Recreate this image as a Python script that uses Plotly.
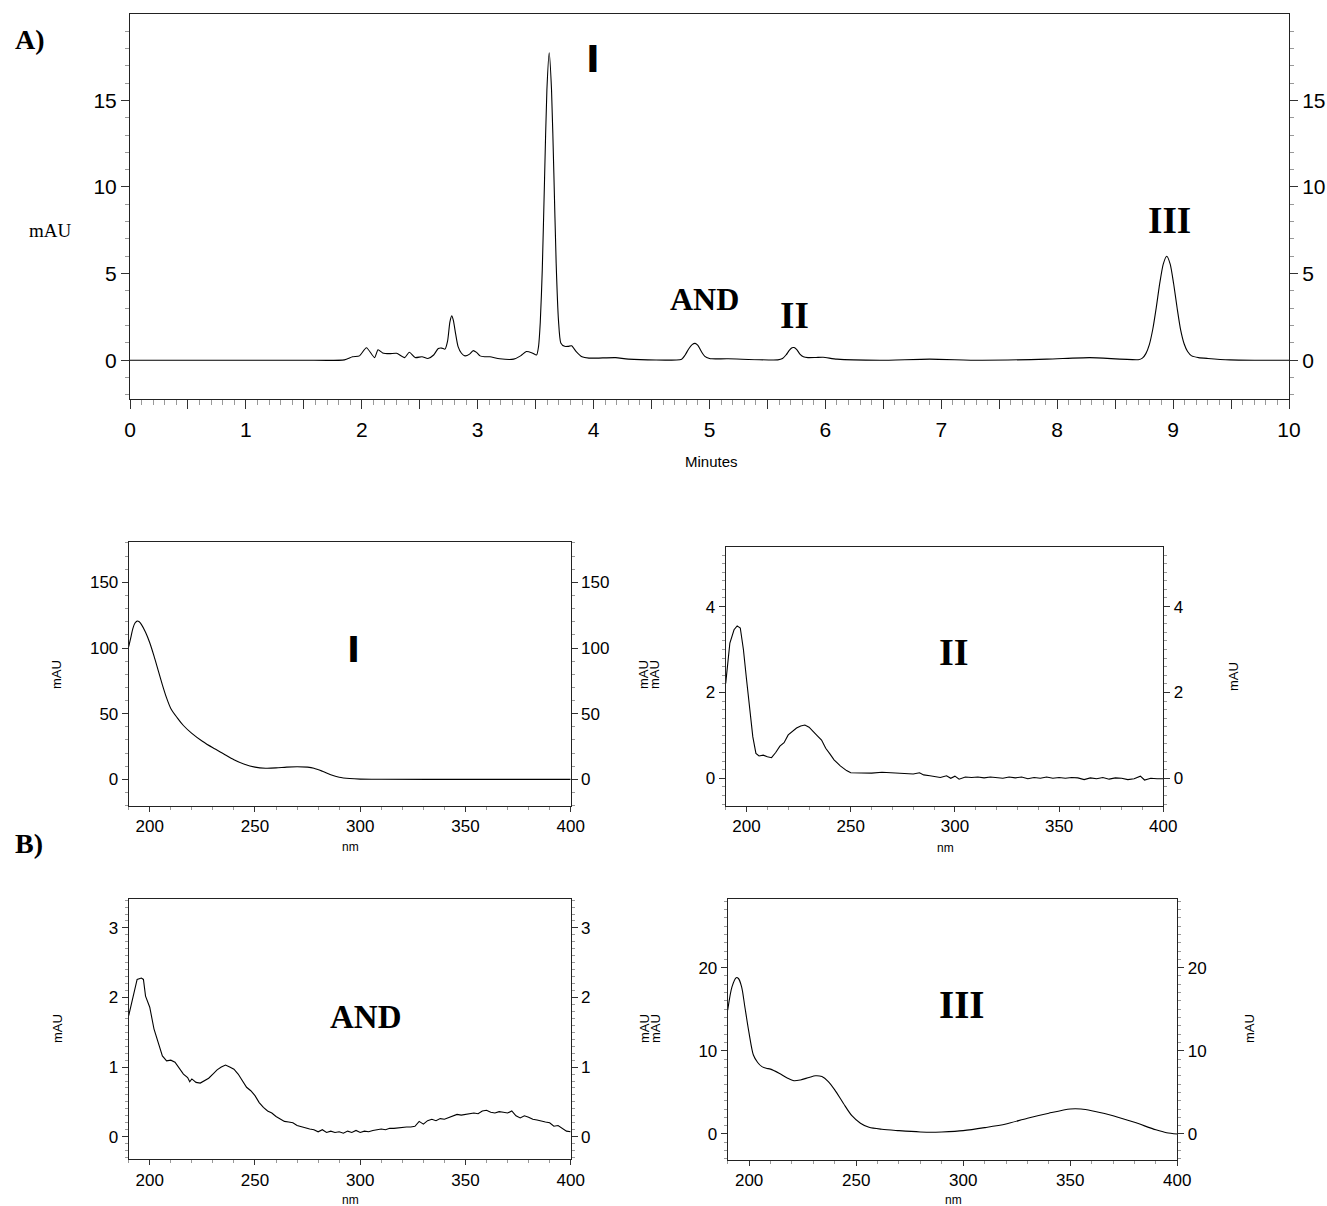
import plotly.graph_objects as go

W, H = 1327, 1206

# ---------------- data ----------------
# A) chromatogram (time in minutes, absorbance in mAU)
chrom_t = [0.0, 0.5, 1.0, 1.5, 1.85, 1.92, 1.98, 2.04, 2.11, 2.14, 2.18, 2.24, 2.30, 2.37, 2.41, 2.46,
           2.52, 2.57, 2.62, 2.66, 2.69, 2.718, 2.74, 2.76, 2.776, 2.79, 2.81, 2.83, 2.86, 2.89, 2.93,
           2.96, 2.99, 3.02, 3.06, 3.106, 3.19, 3.31, 3.37, 3.42, 3.47, 3.508, 3.525, 3.54, 3.557,
           3.577, 3.597, 3.617, 3.637, 3.657, 3.677, 3.697, 3.717, 3.75, 3.78, 3.81, 3.85, 3.90, 3.96,
           4.19, 4.30, 4.76, 4.79, 4.82, 4.85, 4.876, 4.90, 4.93, 4.96, 5.0, 5.02, 5.16, 5.59, 5.63,
           5.66, 5.69, 5.712, 5.73, 5.755, 5.78, 5.81, 5.85, 5.92, 5.98, 6.1, 6.47, 6.9, 7.33, 7.91,
           8.28, 8.70, 8.735, 8.765, 8.795, 8.825, 8.855, 8.885, 8.915, 8.945, 8.975, 9.005, 9.035,
           9.065, 9.095, 9.125, 9.16, 9.22, 9.3, 9.49, 9.7, 10.0]
chrom_mau = [0.0, 0.0, 0.0, 0.0, 0.02, 0.2, 0.25, 0.72, 0.15, 0.6, 0.42, 0.38, 0.4, 0.15, 0.46, 0.15,
             0.2, 0.1, 0.3, 0.68, 0.7, 0.64, 1.1, 2.2, 2.56, 2.3, 1.5, 0.8, 0.4, 0.25, 0.35,
             0.55, 0.45, 0.25, 0.2, 0.2, 0.08, 0.06, 0.25, 0.5, 0.42, 0.3, 0.8, 2.2, 5.2,
             10.5, 15.6, 17.75, 15.6, 10.8, 5.6, 2.3, 1.0, 0.8, 0.8, 0.83, 0.5, 0.2, 0.12,
             0.15, 0.06, 0.06, 0.3, 0.65, 0.9, 0.97, 0.85, 0.5, 0.22, 0.1, 0.08, 0.08, 0.02, 0.1,
             0.3, 0.58, 0.72, 0.73, 0.6, 0.35, 0.2, 0.15, 0.16, 0.17, 0.06, 0.0, 0.06, 0.0, 0.06,
             0.15, 0.03, 0.12, 0.38, 0.9, 1.8, 3.05, 4.45, 5.55, 6.0, 5.55, 4.4, 3.0,
             1.75, 0.95, 0.5, 0.25, 0.15, 0.1, 0.02, 0.0, 0.0]

# B) UV spectra (wavelength nm, absorbance mAU)
spec_I_nm = [190, 191, 192, 193, 194, 195, 196, 198, 200, 202, 204, 206, 208, 210, 213, 216, 220, 225,
             230, 235, 240, 245, 250, 255, 260, 265, 270, 275, 278, 282, 286, 290, 295, 300, 310, 350, 400]
spec_I_mau = [101, 108, 115, 119, 120.5, 120, 118, 112, 104, 94, 83, 72, 62, 54, 47, 41, 35, 29,
              24, 19.5, 15, 11.5, 9.3, 8.5, 8.7, 9.3, 9.6, 9.3, 8.5, 6.2, 3.5, 1.6, 0.6, 0.2, 0.05, 0.0, 0.0]

spec_II_nm = [190, 192, 194, 195.5, 197, 198.5, 200, 201.5, 203, 204.5, 206, 208, 210, 212, 214, 216, 218,
              220, 222, 224, 226, 228, 230, 232, 234, 236, 238, 240, 242, 245, 248, 250, 255, 260, 265,
              270, 275, 280, 283, 285, 288, 290, 293, 296, 298, 300, 302, 305, 308, 311, 314, 317, 320,
              323, 326, 329, 332, 335, 338, 341, 344, 347, 350, 353, 356, 359, 362, 365, 368, 371, 374,
              377, 380, 383, 386, 389, 391, 394, 397, 400]
spec_II_mau = [2.21, 3.15, 3.46, 3.55, 3.5, 3.0, 2.3, 1.6, 0.97, 0.58, 0.52, 0.54, 0.5, 0.48, 0.6, 0.75, 0.83,
               1.01, 1.1, 1.17, 1.22, 1.24, 1.19, 1.1, 0.99, 0.89, 0.7, 0.57, 0.43, 0.29, 0.18, 0.13, 0.12, 0.12, 0.14,
               0.13, 0.12, 0.1, 0.13, 0.08, 0.06, 0.05, 0.02, 0.06, 0.0, 0.05, -0.02, 0.03, 0.02, 0.03, 0.01, 0.03, 0.02,
               0.0, 0.03, 0.01, 0.03, -0.01, 0.02, 0.0, 0.03, 0.0, 0.02, 0.0, 0.02, 0.01, -0.03, 0.01, -0.01, 0.02, -0.02,
               0.01, 0.0, -0.03, -0.01, 0.05, -0.04, 0.0, -0.01, -0.01]

spec_AND_nm = [190, 192, 194, 196, 197, 198, 200, 202, 204, 206, 208, 210, 212, 214, 216, 218, 219, 220,
               222, 224, 226, 228, 230, 232, 234, 236, 238, 240, 242, 244, 246, 248, 250, 252, 254, 256,
               258, 260, 262, 264, 266, 268, 270, 272, 274, 276, 278, 280, 282, 284, 286, 288, 290, 292,
               294, 296, 298, 300, 302, 304, 306, 308, 310, 312, 314, 316, 318, 320, 322, 324, 326, 328,
               330, 332, 334, 336, 338, 340, 342, 344, 346, 348, 350, 352, 354, 356, 358, 360, 362, 364,
               366, 368, 370, 372, 374, 376, 378, 380, 382, 384, 386, 388, 390, 392, 394, 396, 398, 400]
spec_AND_mau = [1.74, 2.0, 2.26, 2.28, 2.26, 2.02, 1.86, 1.55, 1.35, 1.16, 1.09, 1.1, 1.07, 0.99, 0.9, 0.85, 0.79, 0.83,
                0.78, 0.77, 0.8, 0.84, 0.9, 0.96, 1.0, 1.03, 1.0, 0.97, 0.9, 0.8, 0.71, 0.66, 0.59, 0.49, 0.42, 0.37,
                0.34, 0.29, 0.26, 0.22, 0.21, 0.2, 0.16, 0.14, 0.13, 0.11, 0.1, 0.07, 0.1, 0.06, 0.08, 0.06, 0.07, 0.05,
                0.08, 0.06, 0.09, 0.06, 0.08, 0.07, 0.09, 0.1, 0.11, 0.1, 0.12, 0.12, 0.13, 0.13, 0.14, 0.14, 0.15, 0.22,
                0.18, 0.23, 0.25, 0.23, 0.26, 0.25, 0.27, 0.3, 0.32, 0.31, 0.32, 0.33, 0.34, 0.33, 0.37, 0.38, 0.35, 0.34,
                0.36, 0.35, 0.34, 0.37, 0.3, 0.27, 0.3, 0.28, 0.25, 0.24, 0.22, 0.21, 0.2, 0.15, 0.16, 0.12, 0.08, 0.07]

spec_III_nm = [190, 192, 194, 195, 196.5, 198, 200, 202, 204, 206, 208, 210, 214, 218, 221, 224, 228, 231,
               234, 237, 240, 244, 248, 252, 256, 262, 270, 280, 285, 290, 300, 310, 320, 330, 340, 350,
               355, 360, 370, 380, 390, 395, 400]
spec_III_mau = [14.9, 17.7, 18.8, 18.7, 17.7, 15.3, 12.1, 9.5, 8.6, 8.1, 7.9, 7.8, 7.3, 6.7, 6.4, 6.5, 6.8, 7.0,
                6.9, 6.3, 5.3, 3.7, 2.2, 1.3, 0.8, 0.56, 0.4, 0.24, 0.2, 0.24, 0.4, 0.76, 1.2, 1.9, 2.5, 3.0,
                3.0, 2.8, 2.2, 1.4, 0.5, 0.15, 0.0]

x_tick_vals = [v / 2 for v in range(0, 21)]
x_tick_text = [str(int(v)) if v == int(v) else "" for v in x_tick_vals]
peak_labels = ["I", "AND", "II", "III"]
panel_labels = ["A)", "B)"]

# ---------------- figure ----------------
fig = go.Figure()
LINE = dict(color="black", width=1.1)

series = [
    (chrom_t, chrom_mau, "x", "y", "y2", "spline", 0.6),
    (spec_I_nm, spec_I_mau, "x2", "y3", "y4", "spline", 0.8),
    (spec_II_nm, spec_II_mau, "x3", "y5", "y6", "linear", 0),
    (spec_AND_nm, spec_AND_mau, "x4", "y7", "y8", "linear", 0),
    (spec_III_nm, spec_III_mau, "x5", "y9", "y10", "spline", 0.8),
]
for xs, ys, xa, ya, ya_right, shape, sm in series:
    ln = dict(LINE, shape=shape)
    if shape == "spline":
        ln["smoothing"] = sm
    fig.add_trace(go.Scatter(x=xs, y=ys, mode="lines", line=ln, xaxis=xa, yaxis=ya,
                             showlegend=False, hoverinfo="x+y"))
    # same curve bound to the right-hand axis so that axis is drawn (fully transparent)
    fig.add_trace(go.Scatter(x=xs, y=ys, mode="lines", line=ln, xaxis=xa, yaxis=ya_right,
                             opacity=0, showlegend=False, hoverinfo="skip"))

TICKFONT_BIG = dict(family="Liberation Sans, Arial, sans-serif", size=21, color="black")
TICKFONT_SM = dict(family="Liberation Sans, Arial, sans-serif", size=17, color="black")
AXLINE = "#222"
MAJ = "#333"
MINC = "#999"


def xd(a, b):
    return [a / W, b / W]


def yd(top, bot):
    return [1 - bot / H, 1 - top / H]


def xaxis_cfg(domain, rng, anchor, big=False, dtick=50, tick0=200, mdtick=10):
    d = dict(domain=domain, range=rng, anchor=anchor, showline=True, linecolor=AXLINE, linewidth=1,
             mirror=True, ticks="outside", tickcolor=MAJ, showgrid=False, zeroline=False,
             fixedrange=True, automargin=False)
    if big:
        d.update(tickmode="array", tickvals=x_tick_vals, ticktext=x_tick_text, ticklen=9,
                 tickfont=TICKFONT_BIG, ticklabelstandoff=3,
                 minor=dict(ticks="outside", ticklen=5, tickcolor=MINC, dtick=0.1, tick0=0, showgrid=False))
    else:
        d.update(dtick=dtick, tick0=tick0, ticklen=5, tickfont=TICKFONT_SM, ticklabelstandoff=0,
                 minor=dict(ticks="outside", ticklen=3, tickcolor=MINC, dtick=mdtick, tick0=190, showgrid=False))
    return d


def yaxis_cfg(domain, rng, anchor, dtick, mdtick, side="left", overlay=None, big=False):
    d = dict(range=rng, anchor=anchor, side=side, showline=True, linecolor=AXLINE, linewidth=1,
             ticks="outside", tickcolor=MAJ, dtick=dtick, tick0=0, showgrid=False, zeroline=False,
             ticklen=8 if big else 6, tickfont=TICKFONT_BIG if big else TICKFONT_SM, fixedrange=True,
             automargin=False,
             minor=dict(ticks="outside", ticklen=4 if big else 3, tickcolor=MINC, dtick=mdtick, tick0=0,
                        showgrid=False))
    if overlay:
        d["overlaying"] = overlay
    else:
        d["domain"] = domain
    return d


# top chromatogram
top_x = xd(130, 1289)
top_y = yd(14.3, 399)
yr_top = [-2.24, 19.97]
# panels
pI_x, pI_y, yr_I = xd(128.7, 570.7), yd(542.3, 806), [-20.3, 180.5]
pII_x, pII_y, yr_II = xd(725.7, 1163.3), yd(547.3, 806), [-0.645, 5.38]
pA_x, pA_y, yr_A = xd(128.7, 570.7), yd(898.7, 1159.3), [-0.325, 3.42]
pIII_x, pIII_y, yr_III = xd(727.7, 1177.3), yd(899, 1160), [-3.13, 28.26]
xr_nm = [190, 400]

fig.update_layout(
    width=W, height=H, autosize=False,
    margin=dict(l=0, r=0, t=0, b=0, pad=0, autoexpand=False),
    paper_bgcolor="white", plot_bgcolor="white",
    showlegend=False,
    xaxis=xaxis_cfg(top_x, [0, 10], "y", big=True),
    yaxis=yaxis_cfg(top_y, yr_top, "x", 5, 1, big=True),
    yaxis2=yaxis_cfg(None, yr_top, "x", 5, 1, side="right", overlay="y", big=True),
    xaxis2=xaxis_cfg(pI_x, xr_nm, "y3"),
    yaxis3=yaxis_cfg(pI_y, yr_I, "x2", 50, 10),
    yaxis4=yaxis_cfg(None, yr_I, "x2", 50, 10, side="right", overlay="y3"),
    xaxis3=xaxis_cfg(pII_x, xr_nm, "y5"),
    yaxis5=yaxis_cfg(pII_y, yr_II, "x3", 2, 0.2),
    yaxis6=yaxis_cfg(None, yr_II, "x3", 2, 0.2, side="right", overlay="y5"),
    xaxis4=xaxis_cfg(pA_x, xr_nm, "y7"),
    yaxis7=yaxis_cfg(pA_y, yr_A, "x4", 1, 0.1),
    yaxis8=yaxis_cfg(None, yr_A, "x4", 1, 0.1, side="right", overlay="y7"),
    xaxis5=xaxis_cfg(pIII_x, xr_nm, "y9"),
    yaxis9=yaxis_cfg(pIII_y, yr_III, "x5", 10, 1),
    yaxis10=yaxis_cfg(None, yr_III, "x5", 10, 1, side="right", overlay="y9"),
)

SERIF = "Liberation Serif, Times New Roman, serif"
SANS = "Liberation Sans, Arial, sans-serif"


def ann(text, xp, yp, size, family, bold=False, angle=0):
    fig.add_annotation(x=xp / W, y=1 - yp / H, xref="paper", yref="paper", text=("<b>%s</b>" % text) if bold else text,
                       showarrow=False, xanchor="center", yanchor="middle", textangle=angle,
                       font=dict(family=family, size=size, color="black"))


# panel letters
ann(panel_labels[0], 30, 40, 28, SERIF, bold=True)
ann(panel_labels[1], 29, 843, 28, SERIF, bold=True)

# top chart labels
ann("mAU", 50, 230, 19, SERIF)
ann("Minutes", 711, 462, 15, SANS)
ann(peak_labels[0], 593, 59, 37, "DejaVu Sans", bold=True)
ann(peak_labels[1], 704, 299, 32, SERIF, bold=True)
ann(peak_labels[2], 794, 316, 37, SERIF, bold=True)
ann(peak_labels[3], 1169, 220, 37, SERIF, bold=True)

# spectra labels
ann(peak_labels[0], 353, 650, 35, "DejaVu Sans", bold=True)
ann(peak_labels[2], 954, 652, 38, SERIF, bold=True)
ann(peak_labels[1], 366, 1017, 33, SERIF, bold=True)
ann(peak_labels[3], 962, 1004, 39, SERIF, bold=True)

# axis titles of the spectra
for (xp, yp) in [(350, 847), (945, 848), (350, 1200), (953, 1200)]:
    ann("nm", xp, yp, 12, SANS)
for (xp, yp) in [(57, 675), (644, 675), (655, 675), (1233, 677),
                 (57, 1029), (644, 1029), (655, 1029), (1249, 1029)]:
    ann("mAU", xp, yp, 13, SANS, angle=-90)

fig.write_html("out.html")
